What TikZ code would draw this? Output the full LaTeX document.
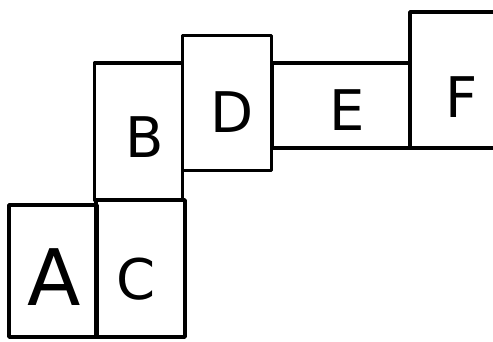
\documentclass[tikz,border=0pt]{standalone}
\usepackage{fontspec}
\setmainfont{DejaVu Sans}
\begin{document}
\begin{tikzpicture}[x=1pt,y=-1pt,
  cell/.style={draw=black,line width=3.8pt,inner sep=0pt,line join=round},
  letter/.style={inner sep=0pt,font=\fontsize{56}{60}\selectfont}
]
\useasboundingbox[fill=white] (0,0) rectangle (493,341);
\node[cell,minimum width=88pt,minimum height=132pt] (boxA) at (53,271) {};
\node[cell,minimum width=89pt,minimum height=137pt] (boxC) at (140.5,268.5) {};
\node[cell,minimum width=88pt,minimum height=137pt] (boxB) at (138.5,131.5) {};
\node[cell,minimum width=89pt,minimum height=135pt] (boxD) at (227,103) {};
\node[cell,minimum width=138pt,minimum height=85pt] (boxE) at (341,105.5) {};
\node[cell,minimum width=92pt,minimum height=136pt] (boxF) at (456,80) {};
\node[letter,font=\fontsize{78}{80}\selectfont] (tA) at (54,277) {A};
\node[letter] (tC) at (136,279) {C};
\node[letter] (tB) at (145,137) {B};
\node[letter] (tD) at (232,112) {D};
\node[letter] (tE) at (347,110) {E};
\node[letter] (tF) at (462,97) {F};
\end{tikzpicture}
\end{document}
